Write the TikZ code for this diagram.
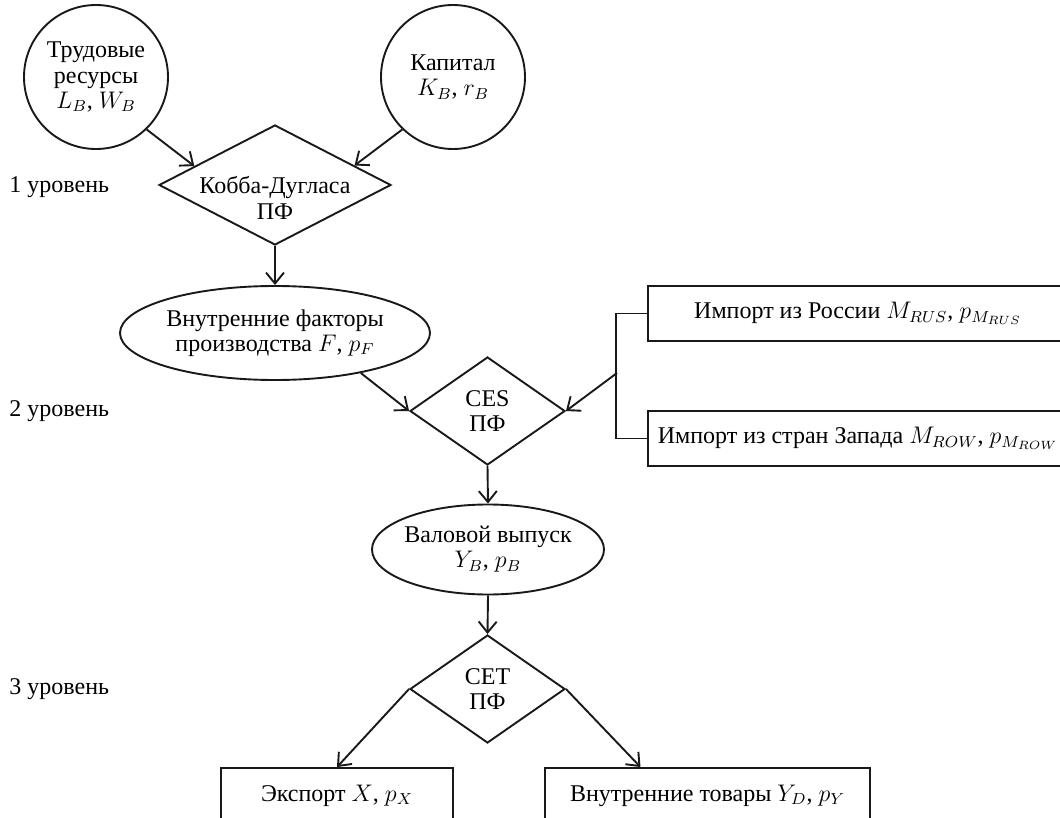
\documentclass[tikz,border=0pt]{standalone}
\usepackage{fontspec}
\setmainfont{Liberation Serif}
\usetikzlibrary{shapes.geometric,arrows.meta,calc}
\begin{document}
\begin{tikzpicture}[x=0.5pt,y=-0.5pt,
  txt/.style={font=\fontsize{12}{12.6}\selectfont,align=center,inner sep=0pt},
  ln/.style={line width=0.95pt,draw=black!90},
  arr/.style={ln,-{Straight Barb[length=5.5pt,width=9pt]}},
  circ/.style={circle,ln,minimum size=72pt,inner sep=0pt,txt},
  dia/.style={diamond,ln,inner sep=0pt},
  ell/.style={ellipse,ln,inner sep=0pt},
  box/.style={rectangle,ln,inner sep=0pt,minimum height=27.5pt,txt},
  lvl/.style={txt,anchor=west}
]
\useasboundingbox (0,0) rectangle (1060,818);
\clip (0,0) rectangle (1060,818);

% level labels
\node[lvl] (l1) at (9,187) {1 уровень};
\node[lvl] (l2) at (9,411) {2 уровень};
\node[lvl] (l3) at (9,689) {3 уровень};

% inputs
\node[circ] (c1) at (96,77) {Трудовые\\ресурсы\\$L_B$, $W_B$};
\node[circ] (c2) at (453,77) {Капитал\\$K_B$, $r_B$};

% level 1
\node[dia,minimum width=116pt,minimum height=60pt,
  label={[txt,yshift=-6.5pt]center:{Кобба-Дугласа\\ПФ}}] (d1) at (275,185) {};

% level 2
\node[ell,minimum width=155pt,minimum height=47pt,
  label={[txt]center:{Внутренние факторы\\производства $F$, $p_F$}}] (e1) at (275,333) {};
\node[dia,minimum width=77.5pt,minimum height=54pt,
  label={[txt]center:{CES\\ПФ}}] (ces) at (487.5,411) {};
\node[box,minimum width=210pt] (imp1) at (858,313.5) {Импорт из России $M_{RUS}$, $p_{M_{RUS}}$};
\node[box,minimum width=210pt] (imp2) at (858,438.5) {Импорт из стран Запада $M_{ROW}$, $p_{M_{ROW}}$};

% level 3
\node[ell,minimum width=116pt,minimum height=45pt,
  label={[txt]center:{Валовой выпуск\\$Y_B$, $p_B$}}] (val) at (488,549.5) {};
\node[dia,minimum width=77.5pt,minimum height=54pt,
  label={[txt]center:{CET\\ПФ}}] (cet) at (487.5,689) {};
\node[box,minimum width=116pt] (exp) at (337,795.5) {Экспорт $X$, $p_X$};
\node[box,minimum width=162.5pt] (dom) at (707.5,795.5) {Внутренние товары $Y_D$, $p_Y$};

% connectors
\draw[arr] (c1.-46) -- ($(d1.west)!0.31!(d1.north)$);
\draw[arr] (c2.226) -- ($(d1.east)!0.32!(d1.north)$);
\draw[arr] (d1.south) -- (e1.north);
\draw[arr] (e1.-25) -- (ces.west);
\draw[ln] (imp1.west) -- ++(-31,0) |- (imp2.west);
\coordinate (bj) at (617,373);
\draw[arr] (bj) -- (ces.east);
\draw[arr] (ces.south) -- (val.north);
\draw[arr] (val.south) -- (cet.north);
\draw[arr] (cet.west) -- (exp.north);
\draw[arr] (cet.east) -- ($(dom.north west)!0.295!(dom.north east)$);
\end{tikzpicture}
\end{document}
